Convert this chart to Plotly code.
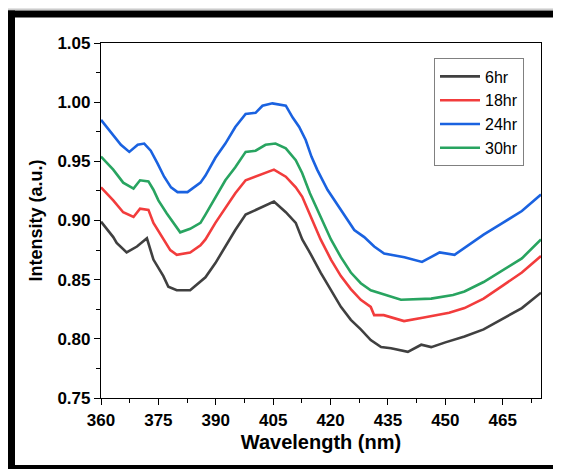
import plotly.graph_objects as go

# Wavelength (nm) sample points
wl_6 = [360, 363.2, 364.1, 366.7, 369.4, 372.0, 373.7, 376.3, 377.6, 379.8, 383.3, 386.0,
        387.3, 389.9, 392.5, 395.1, 397.8, 400.4, 403.0, 405.2, 408.3, 410.9, 412.6, 414.4,
        417.4, 420.1, 422.7, 425.3, 427.9, 430.5, 433.2, 435.8, 440.2, 443.7, 446.3,
        450, 455, 460, 465, 470, 475]
int_6 = [0.899, 0.886, 0.881, 0.873, 0.878, 0.885, 0.867, 0.853, 0.844, 0.841, 0.841, 0.849,
         0.852, 0.864, 0.878, 0.892, 0.905, 0.909, 0.913, 0.916, 0.907, 0.898, 0.884, 0.874,
         0.856, 0.841, 0.827, 0.816, 0.808, 0.799, 0.793, 0.792, 0.789, 0.795, 0.793,
         0.797, 0.802, 0.808, 0.817, 0.826, 0.839]

wl_18 = [360, 363.2, 365.8, 368.5, 370.2, 372.4, 373.7, 376.3, 378.1, 379.8, 383.3, 386.0,
         387.3, 389.9, 392.5, 395.1, 397.8, 400.4, 403.0, 405.2, 408.3, 410.9, 412.6, 414.6,
         417.4, 420.1, 422.7, 425.3, 427.9, 430.5, 431.4, 433.9, 439.2, 444.4, 451,
         455, 460, 465, 470, 475]
int_18 = [0.928, 0.917, 0.907, 0.903, 0.910, 0.909, 0.898, 0.884, 0.875, 0.871, 0.873, 0.879,
          0.884, 0.898, 0.911, 0.923, 0.934, 0.937, 0.940, 0.943, 0.937, 0.928, 0.920, 0.905,
          0.884, 0.867, 0.853, 0.842, 0.833, 0.827, 0.820, 0.820, 0.815, 0.818, 0.822,
          0.826, 0.834, 0.845, 0.856, 0.870]

wl_24 = [360, 362.6, 365.2, 367.4, 369.6, 371.3, 373.0, 374.8, 376.5, 378.3, 380.0, 382.6,
         386.0, 387.3, 389.9, 392.5, 395.1, 397.8, 400.4, 402.2, 404.8, 408.3, 410.1, 411.8,
         413.5, 415.0, 416.5, 419.2, 421.8, 424.4, 426.2, 428.8, 431.4, 434.0, 439.3,
         443.9, 448.5, 452.4, 455, 460, 465, 470, 475]
int_24 = [0.985, 0.974, 0.964, 0.958, 0.964, 0.965, 0.959, 0.948, 0.937, 0.928, 0.924, 0.924,
          0.932, 0.938, 0.953, 0.965, 0.979, 0.990, 0.991, 0.997, 0.999, 0.997, 0.987, 0.979,
          0.968, 0.954, 0.943, 0.926, 0.913, 0.900, 0.892, 0.886, 0.878, 0.872, 0.869,
          0.865, 0.873, 0.871, 0.877, 0.888, 0.898, 0.908, 0.922]

wl_30 = [360, 363.2, 365.8, 368.5, 370.2, 372.4, 373.7, 375.0, 377.2, 379.0, 380.7, 383.3,
         386.0, 387.3, 389.9, 392.5, 395.1, 397.8, 400.4, 403.0, 405.6, 408.3, 410.9, 412.6,
         414.6, 417.4, 420.1, 422.7, 425.3, 427.9, 430.5, 438.4, 446.3, 452,
         455, 460, 465, 470, 475]
int_30 = [0.954, 0.943, 0.932, 0.927, 0.934, 0.933, 0.926, 0.917, 0.906, 0.898, 0.890, 0.893,
          0.898, 0.905, 0.920, 0.934, 0.945, 0.958, 0.959, 0.964, 0.965, 0.961, 0.951, 0.940,
          0.923, 0.903, 0.884, 0.869, 0.856, 0.847, 0.841, 0.833, 0.834, 0.837,
          0.840, 0.848, 0.858, 0.868, 0.884]

series_names = ["6hr", "18hr", "24hr", "30hr"]
series_colors = ["#404040", "#f23c3c", "#1a62e0", "#28a460"]

x_tick_vals = [360, 375, 390, 405, 420, 435, 450, 465]
y_tick_vals = [0.75, 0.80, 0.85, 0.90, 0.95, 1.00, 1.05]
y_tick_text = ["0.75", "0.80", "0.85", "0.90", "0.95", "1.00", "1.05"]

# page has an 8px body margin, so the figure is sized to fit the 561x469 window
W, H = 553, 461
L, R, T, B = 93, 20, 34.5, 71

fig = go.Figure()
for wl, iv, name, col in zip([wl_6, wl_18, wl_24, wl_30], [int_6, int_18, int_24, int_30],
                             series_names, series_colors):
    fig.add_trace(go.Scatter(x=wl, y=iv, mode="lines", name=name,
                             line=dict(color=col, width=2.6)))

font_family = "Liberation Sans, Arial, sans-serif"
axis_common = dict(showline=True, linecolor="black", linewidth=1.2, mirror=True,
                   ticks="outside", ticklen=6, tickwidth=1.2, tickcolor="black",
                   showgrid=False, zeroline=False,
                   tickfont=dict(family=font_family, size=17, color="black", weight="bold"))

fig.update_layout(
    width=W, height=H,
    margin=dict(l=L, r=R, t=T, b=B),
    paper_bgcolor="white", plot_bgcolor="white",
    xaxis=dict(range=[360, 475], tickvals=x_tick_vals,
               minor=dict(dtick=7.5, tick0=360, ticks="outside", ticklen=3.5, tickcolor="black", tickwidth=1.2),
               title=dict(text="Wavelength (nm)", standoff=6,
                          font=dict(family=font_family, size=20, color="black", weight="bold")),
               ticklabelstandoff=0,
               **axis_common),
    yaxis=dict(range=[0.75, 1.05], tickvals=y_tick_vals, ticktext=y_tick_text,
               minor=dict(dtick=0.025, tick0=0.75, ticks="outside", ticklen=3.5, tickcolor="black", tickwidth=1.2),
               title=dict(text="Intensity (a.u.)", standoff=10,
                          font=dict(family=font_family, size=18, color="black", weight="bold")),
               **axis_common),
    legend=dict(x=(426 - L) / (W - L - R), y=(H - B - 50) / (H - T - B), xanchor="left", yanchor="top",
                bgcolor="white", bordercolor="#808080", borderwidth=1,
                font=dict(family=font_family, size=16, color="black"),
                itemwidth=40, tracegroupgap=0),
)

# outer black frame (decorative), pixel -> paper conversion
pw, ph = W - L - R, H - T - B
def px(xp):
    return (xp - L) / pw
def py(yp):
    return (H - B - yp) / ph

frame = [(-1, 2, W + 5, 9), (-1, 2, 7, H + 5), (-1, 457, W + 5, H + 5)]
for x0, y0, x1, y1 in frame:
    fig.add_shape(type="rect", xref="paper", yref="paper",
                  x0=px(x0), x1=px(x1), y0=py(y0), y1=py(y1),
                  fillcolor="black", line=dict(width=0), layer="above")
fig.add_shape(type="line", xref="paper", yref="paper", x0=px(-1), x1=px(W + 5), y0=py(0.6), y1=py(0.6),
              line=dict(color="#b0b0b0", width=1))

fig.write_html("out.html")
